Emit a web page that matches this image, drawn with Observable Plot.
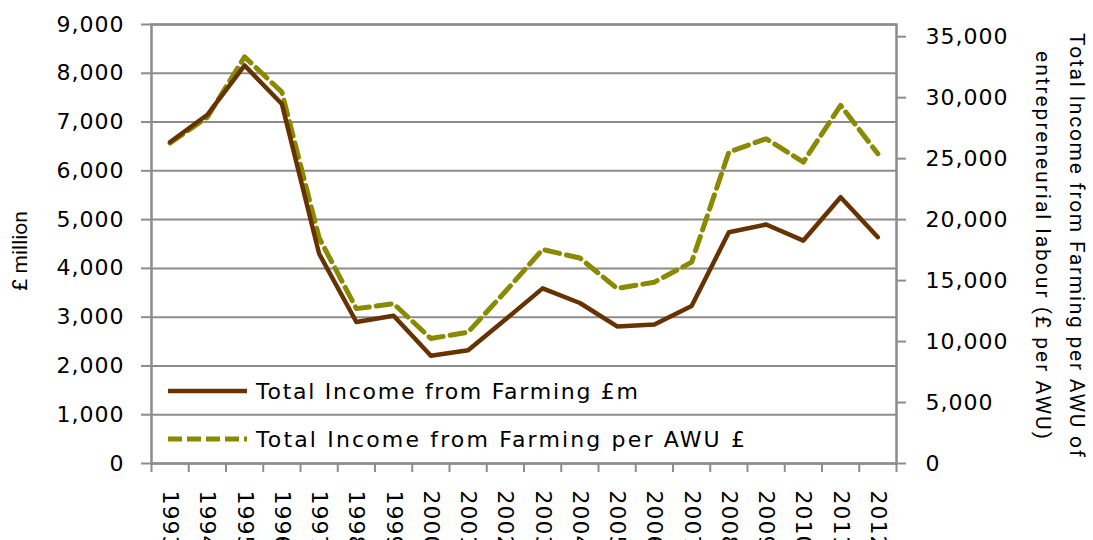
<!DOCTYPE html>
<html>
<head>
<meta charset="utf-8">
<script src="https://cdn.jsdelivr.net/npm/d3@7"></script>
<script src="https://cdn.jsdelivr.net/npm/@observablehq/plot@0.6"></script>
<style>
  html, body { margin: 0; padding: 0; background: #fff; }
  #chart { width: 1093px; height: 540px; overflow: hidden; }
</style>
</head>
<body>
<div id="chart"></div>
<script>
const years = [1993, 1994, 1995, 1996, 1997, 1998, 1999, 2000, 2001, 2002,
               2003, 2004, 2005, 2006, 2007, 2008, 2009, 2010, 2011, 2012];
const incomeMillion = [6590, 7150, 8160, 7370, 4300, 2900, 3030, 2210, 2320, 2950,
                       3590, 3290, 2810, 2850, 3230, 4740, 4900, 4570, 5460, 4640];
const incomePerAWU = [26280, 28400, 33350, 30450, 18500, 12700, 13100, 10250, 10770, 14100,
                      17550, 16850, 14350, 14870, 16510, 25540, 26630, 24720, 29370, 25400];
const leftTicks = [0, 1000, 2000, 3000, 4000, 5000, 6000, 7000, 8000, 9000];
const rightTicks = [0, 5000, 10000, 15000, 20000, 25000, 30000, 35000];
const seriesNames = ["Total Income from Farming £m", "Total Income from Farming per AWU £"];
const leftTitle = "£ million";
const rightTitle = ["Total Income from Farming per AWU of", "entrepreneurial labour (£ per AWU)"];

const leftMax = 9000, rightMax = 36000;
const toLeft = v => v * leftMax / rightMax;
const fmt = d3.format(",");
const data = years.map((year, i) => ({year, m: incomeMillion[i], awu: incomePerAWU[i]}));
const boundaries = years.map(y => y - 0.5).concat([years[years.length - 1] + 0.5]);

const gray = "#8c8c8c";
const brown = "#663300";
const olive = "#8a8a00";

const chart = Plot.plot({
  width: 1093,
  height: 540,
  marginLeft: 151,
  marginRight: 197,
  marginTop: 24,
  marginBottom: 77,
  style: {fontFamily: "'DejaVu Sans', sans-serif", fontSize: "22px", color: "#000", background: "#fff", letterSpacing: "1px"},
  x: {type: "linear", domain: [years[0] - 0.5, years[years.length - 1] + 0.5]},
  y: {domain: [0, leftMax]},
  marks: [
    Plot.ruleY(leftTicks, {stroke: gray, strokeWidth: 2}),
    Plot.frame({stroke: gray, strokeWidth: 2.5}),
    Plot.axisY(leftTicks, {anchor: "left", tickSize: 10, tickPadding: 17, tickFormat: fmt, label: null, stroke: gray, strokeWidth: 2, fill: "#000"}),
    Plot.axisY(rightTicks.map(toLeft), {anchor: "right", tickSize: 9, tickPadding: 20, tickFormat: d => fmt(Math.round(d * rightMax / leftMax)), label: null, stroke: gray, strokeWidth: 2, fill: "#000"}),
    Plot.axisX(boundaries, {anchor: "bottom", tickSize: 9, tickFormat: () => "", label: null, stroke: gray, strokeWidth: 2}),
    Plot.axisX(years, {anchor: "bottom", tickSize: 0, tickPadding: 27, tickRotate: 90, tickFormat: d => String(d), label: null, fill: "#000"}),
    Plot.line(data, {x: "year", y: d => toLeft(d.awu), stroke: olive, strokeWidth: 5, strokeDasharray: "15,7", strokeLinejoin: "round"}),
    Plot.line(data, {x: "year", y: "m", stroke: brown, strokeWidth: 4.5, strokeLinejoin: "round"})
  ]
});

document.getElementById("chart").appendChild(chart);

const svg = d3.select(chart);
// Legend
const legend = svg.append("g").attr("text-anchor", "start");
const legendRows = [
  {y: 391, stroke: brown, dash: null, w: 4.5, len: 382},
  {y: 439, stroke: olive, dash: "14,5", w: 5, len: 489}
];
legendRows.forEach((r, i) => {
  legend.append("line").attr("x1", 168).attr("x2", 247).attr("y1", r.y).attr("y2", r.y)
    .attr("stroke", r.stroke).attr("stroke-width", r.w)
    .attr("stroke-dasharray", r.dash);
  legend.append("text").attr("x", 256).attr("y", r.y).attr("dy", "0.35em")
    .attr("text-anchor", "start")
    .attr("font-family", "'DejaVu Sans', sans-serif").attr("font-size", 22)
    .attr("letter-spacing", "0px").attr("fill", "#000")
    .attr("textLength", r.len).attr("lengthAdjust", "spacing")
    .text(seriesNames[i]);
});
// Left axis title
svg.append("text")
  .attr("transform", "translate(20,251) rotate(-90)")
  .attr("text-anchor", "middle").attr("dy", "0.35em")
  .attr("font-family", "'Liberation Sans Narrow', 'Roboto', sans-serif").attr("font-size", 21)
  .attr("letter-spacing", "0px")
  .attr("fill", "#000")
  .text(leftTitle);
// Right axis title
const rt = svg.append("text")
  .attr("transform", "translate(1077,245) rotate(90)")
  .attr("text-anchor", "middle")
  .attr("font-family", "'Liberation Sans Narrow', 'Roboto', sans-serif").attr("font-size", 21)
  .attr("letter-spacing", "0px")
  .attr("fill", "#000");
rt.append("tspan").attr("x", 0).attr("y", 0).attr("dy", "0.35em")
  .attr("textLength", 424).attr("lengthAdjust", "spacing").text(rightTitle[0]);
rt.append("tspan").attr("x", 0).attr("y", 34).attr("dy", "0.35em")
  .attr("textLength", 388).attr("lengthAdjust", "spacing").text(rightTitle[1]);
</script>
</body>
</html>
